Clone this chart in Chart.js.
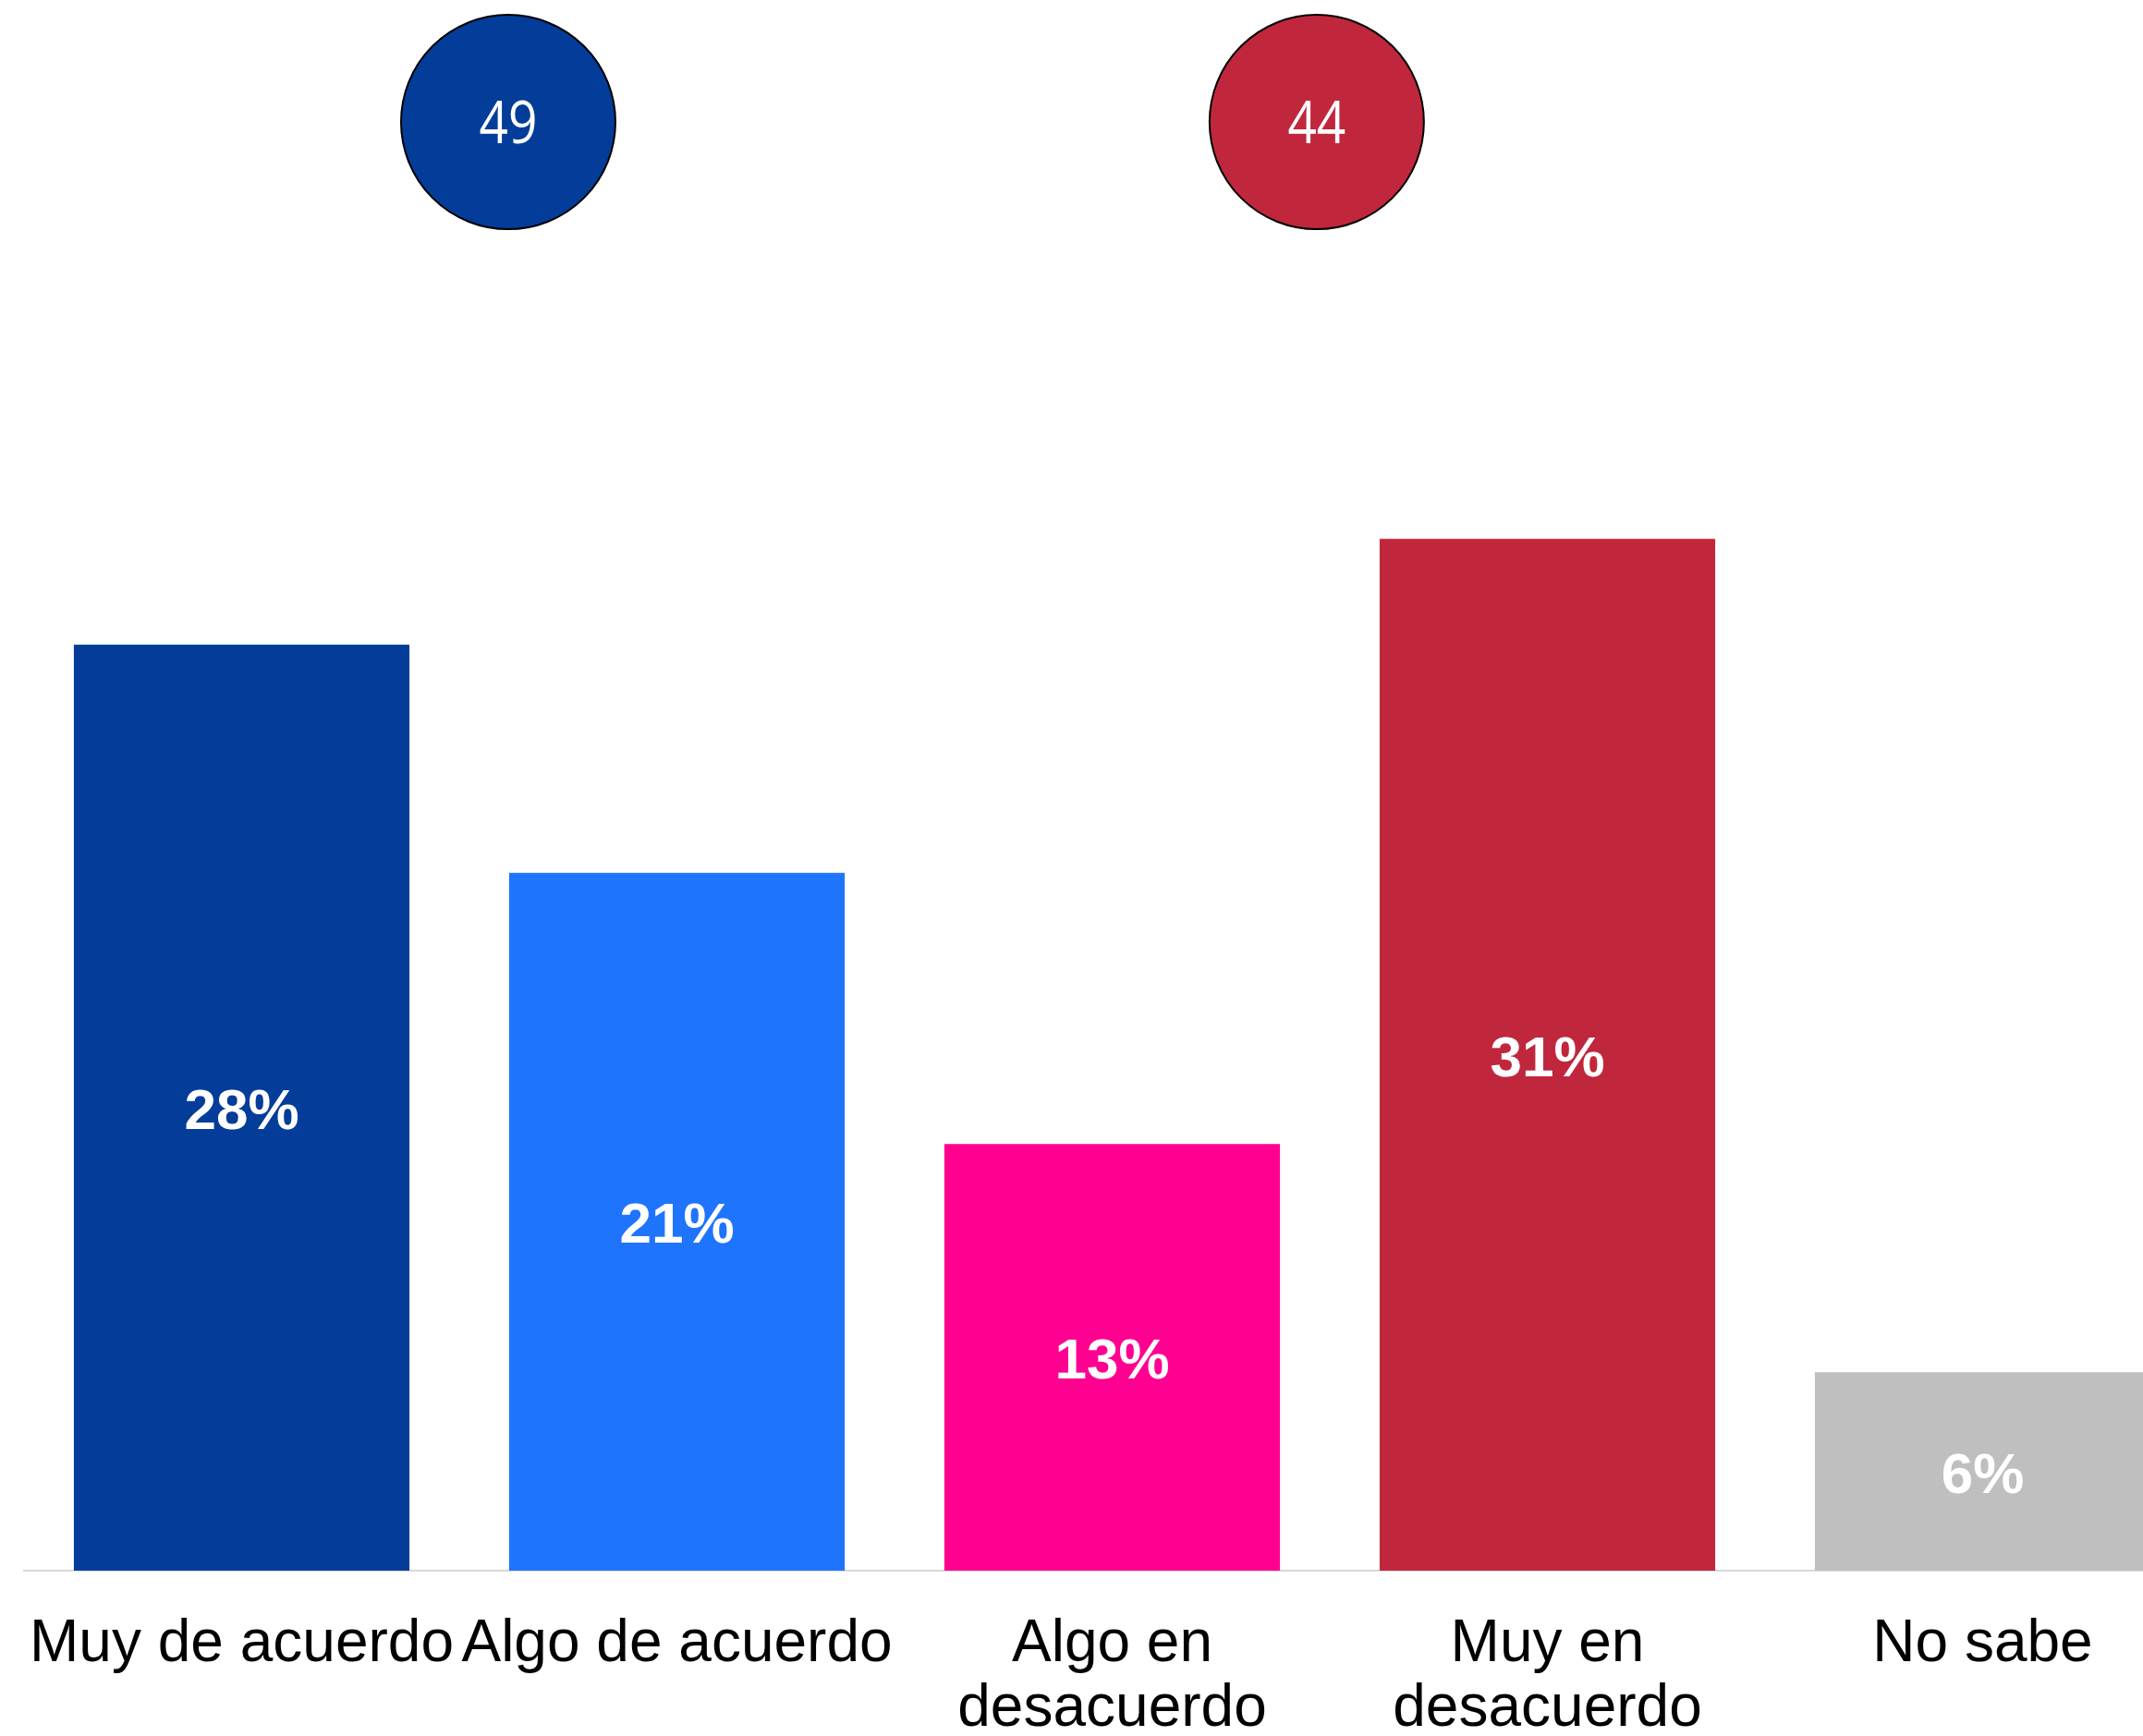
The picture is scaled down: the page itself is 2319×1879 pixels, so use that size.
<!DOCTYPE html>
<html lang="es">
<head>
  <meta charset="UTF-8">
  <title>Acuerdo</title>
  <script src="https://cdn.jsdelivr.net/npm/chart.js"></script>
  <style>
    html, body {
      margin: 0;
      padding: 0;
      background: #fff;
      overflow: hidden;
    }
    #wrap {
      width: 2381px;
      height: 1879px;
    }
  </style>
</head>
<body>
<div id="wrap"><canvas id="chart"></canvas></div>

<script>
  // data
  const categories = [
    "Muy de acuerdo",
    "Algo de acuerdo",
    ["Algo en", "desacuerdo"],
    ["Muy en", "desacuerdo"],
    "No sabe"
  ];
  const values = [28.0, 21.1, 12.9, 31.2, 6.0];   // bar heights
  const valueLabels = [28, 21, 13, 31, 6];         // rounded, as printed
  const barColors = ["#033d99", "#1f74fd", "#ff0090", "#c0273d", "#bfbfbf"];

  // totals shown in the two circles (agree / disagree)
  const totals = [49, 44];
  const totalColors = ["#033d99", "#c0273d"];
  const totalX = [0.6125, 2.47];   // in category units
  const totalY = [43.8, 43.8];

  const bubbles = totals.map((t, i) => ({ x: totalX[i], y: totalY[i], r: 116 }));

  // white labels inside the bars + numbers in the circles
  const labelPlugin = {
    id: "labels",
    afterDatasetsDraw(chart) {
      const ctx = chart.ctx;
      ctx.save();
      ctx.fillStyle = "#fff";
      ctx.textAlign = "center";
      ctx.textBaseline = "middle";

      const bars = chart.getDatasetMeta(0);
      ctx.font = "bold 62px 'Liberation Sans', Arial, sans-serif";
      bars.data.forEach((bar, i) => {
        ctx.fillText(valueLabels[i] + "%", bar.x, (bar.y + bar.base) / 2 + 6);
      });

      const circles = chart.getDatasetMeta(1);
      ctx.font = "64px 'Open Sans', sans-serif";
      circles.data.forEach((pt, i) => {
        ctx.save();
        ctx.translate(pt.x, pt.y);
        ctx.scale(0.86, 1);
        ctx.fillText(String(totals[i]), 0, 5);
        ctx.restore();
      });
      ctx.restore();
    }
  };

  const ctx = document.getElementById("chart").getContext("2d");
  new Chart(ctx, {
    data: {
      labels: categories,
      datasets: [
        {
          type: "bar",
          data: values,
          backgroundColor: barColors,
          categoryPercentage: 1,
          barPercentage: 0.771,
          grouped: false,
          xAxisID: "x",
          yAxisID: "y",
          order: 2
        },
        {
          type: "bubble",
          data: bubbles,
          backgroundColor: totalColors,
          borderColor: "#000",
          borderWidth: 2,
          xAxisID: "x2",
          yAxisID: "y",
          clip: false,
          order: 1
        }
      ]
    },
    options: {
      responsive: true,
      maintainAspectRatio: false,
      animation: false,
      events: [],
      layout: { autoPadding: false, padding: { left: 26, right: 0, top: 0, bottom: 0 } },
      plugins: {
        legend: { display: false },
        tooltip: { enabled: false }
      },
      scales: {
        x: {
          type: "category",
          grid: { display: false, drawTicks: true, tickLength: 45 },
          border: { display: true, color: "#d9d9d9", width: 2 },
          ticks: {
            color: "#000",
            padding: 0,
            maxRotation: 0,
            autoSkip: false,
            font: { family: "'Liberation Sans', Arial, sans-serif", size: 64, lineHeight: 1.1 }
          },
          afterFit: s => { s.height = 179; }
        },
        x2: {
          type: "linear",
          display: false,
          min: -0.5,
          max: 4.5,
          offset: false
        },
        y: {
          display: false,
          min: 0,
          max: 47.49
        }
      }
    },
    plugins: [labelPlugin]
  });
</script>
</body>
</html>
